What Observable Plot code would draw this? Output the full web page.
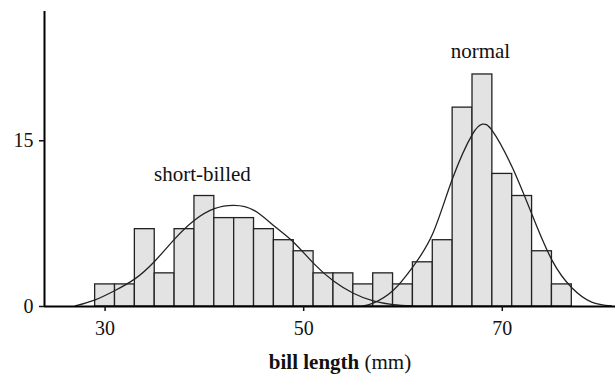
<!DOCTYPE html>
<html>
<head>
<meta charset="utf-8">
<script src="https://cdn.jsdelivr.net/npm/d3@7"></script>
<script src="https://cdn.jsdelivr.net/npm/@observablehq/plot@0.6"></script>
<style>
  html, body { margin: 0; padding: 0; background: #fff; }
  #chart svg, #chart svg text { font-family: "Liberation Serif", "DejaVu Serif", serif !important; }
  #caption { width: 615px; box-sizing: border-box; padding-left: 65px; text-align: center;
    font-family: "Liberation Serif", "DejaVu Serif", serif; font-size: 21px; line-height: 31px; color: #111; }
</style>
</head>
<body>
<div id="chart"></div>
<div id="caption"><b>bill length</b> (mm)</div>
<script>
// Histogram bins (bill length, mm) and counts
const binStart = [29,31,33,35,37,39,41,43,45,47,49,51,53,55,57,59,61,63,65,67,69,71,73,75];
const binEnd   = [31,33,35,37,39,41,43,45,47,49,51,53,55,57,59,61,63,65,67,69,71,73,75,77];
const counts   = [2,2,7,3,7,10,8,8,7,6,5,3,3,2,3,2,4,6,18,21,12,10,5,2];

// Fitted curve for the short-billed group
const shortX = [27,29,31,33,35,37,39,41,43,45,47,49,51,53,55,57,59,61];
const shortY = [0.05,0.6,1.45,2.5,4.1,6.1,7.8,8.85,9.15,8.7,7.3,5.8,3.9,2.3,1.2,0.5,0.17,0.05];

// Fitted curve for the normal group
const normX = [56,57,59,61,63,65,67,68,69,71,73,75,77,79,81];
const normY = [0.05,0.3,1.45,3.6,6.6,11.6,15.6,16.5,15.9,12.6,8.3,4.2,1.7,0.4,0.05];

// Group labels
const groupLabel = ["short-billed", "normal"];
const groupLabelX = [39.8, 67.8];
const groupLabelY = [11.4, 22.5];

const xTicks = [30, 50, 70];
const yTicks = [0, 15];
const xDomain = [23.9, 81.4];
const yDomain = [0, 26.7];

const bins = binStart.map((s, i) => ({x1: s, x2: binEnd[i], count: counts[i]}));
const shortCurve = shortX.map((x, i) => ({x, y: shortY[i]}));
const normCurve = normX.map((x, i) => ({x, y: normY[i]}));
const labels = groupLabel.map((t, i) => ({t, x: groupLabelX[i], y: groupLabelY[i]}));

const plot = Plot.plot({
  width: 615,
  height: 347,
  marginLeft: 44,
  marginRight: 0,
  marginTop: 11,
  marginBottom: 41,
  style: {fontFamily: '"Liberation Serif", "DejaVu Serif", serif', fontSize: "20px", color: "#111", background: "#fff"},
  x: {domain: xDomain, ticks: xTicks, tickSize: 5, tickPadding: 9, label: null},
  y: {domain: yDomain, ticks: yTicks, tickSize: 5, tickPadding: 6, label: null},
  marks: [
    Plot.rectY(bins, {x1: "x1", x2: "x2", y: "count", fill: "#e3e3e3", stroke: "#222", strokeWidth: 1.3}),
    Plot.line(shortCurve, {x: "x", y: "y", curve: "natural", stroke: "#222", strokeWidth: 1.3}),
    Plot.line(normCurve, {x: "x", y: "y", curve: "natural", stroke: "#222", strokeWidth: 1.3}),
    Plot.ruleY([0], {stroke: "#000", strokeWidth: 2}),
    Plot.ruleX([xDomain[0]], {stroke: "#000", strokeWidth: 2}),
    Plot.axisX({ticks: xTicks, tickSize: 5, tickPadding: 9, fontSize: 20, strokeWidth: 1.5, label: null}),
    Plot.axisY({ticks: yTicks, tickSize: 5, tickPadding: 6, fontSize: 20, strokeWidth: 1.5, label: null}),
    Plot.text(labels, {x: "x", y: "y", text: "t", textAnchor: "middle", lineAnchor: "bottom", fontSize: 21, fill: "#111"})
  ]
});
document.getElementById("chart").appendChild(plot);
</script>
</body>
</html>
